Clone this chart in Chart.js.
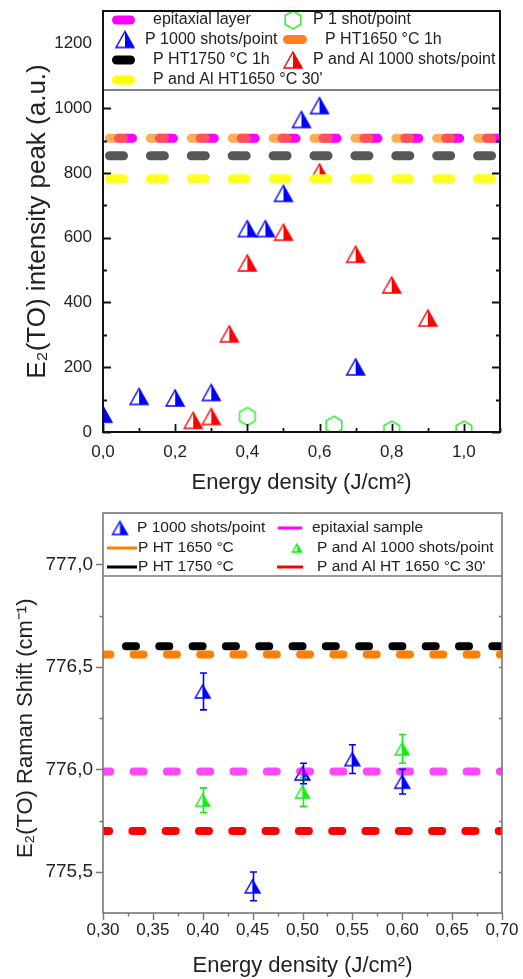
<!DOCTYPE html>
<html>
<head>
<meta charset="utf-8">
<title>E2(TO) intensity and Raman shift vs energy density</title>
<script src="https://cdn.jsdelivr.net/npm/chart.js@4.4.1/dist/chart.umd.min.js"></script>
<style>
  html, body { margin: 0; padding: 0; background: #fff; }
  #wrap { position: relative; width: 523px; height: 979px; overflow: hidden; }
  #top-chart { position: absolute; left: 0; top: 0; }
  #bottom-chart { position: absolute; left: 0; top: 500px; }
</style>
</head>
<body>
<div id="wrap">
  <canvas id="top-chart" width="523" height="500"></canvas>
  <canvas id="bottom-chart" width="523" height="479"></canvas>
</div>
<script>
// ---- top panel: E2(TO) intensity peak ----
var topSeriesNames = ["epitaxial layer", "P 1 shot/point", "P 1000 shots/point", "P HT1650 °C 1h",
  "P HT1750 °C 1h", "P and Al 1000 shots/point", "P and Al HT1650 °C 30'"];
var topP1000X = [0.0, 0.1, 0.2, 0.3, 0.4, 0.45, 0.5, 0.55, 0.6, 0.7];
var topP1000Y = [55, 110, 105, 122, 628, 628, 737, 965, 1008, 201];
var topPAl1000X = [0.25, 0.3, 0.35, 0.4, 0.5, 0.6, 0.7, 0.8, 0.9];
var topPAl1000Y = [36, 48, 303, 522, 617, 803, 549, 454, 352];
var topP1ShotX = [0.4, 0.64, 0.8, 1.0];
var topP1ShotY = [48, 21, 6, 6];
var topEpitaxial = 907;
var topHT1650 = 907;
var topHT1750 = 853;
var topAlHT1650 = 782;
var topXRange = [0, 1.1];
var topYRange = [0, 1300];
var topXMajor = [0, 0.2, 0.4, 0.6, 0.8, 1.0];
var topXMinor = [0.1, 0.3, 0.5, 0.7, 0.9, 1.1];
var topYMajor = [0, 200, 400, 600, 800, 1000, 1200];
var topYMinor = [100, 300, 500, 700, 900, 1100];

// ---- bottom panel: E2(TO) Raman shift ----
var bottomSeriesNames = ["P 1000 shots/point", "epitaxial sample", "P HT 1650 °C",
  "P and Al 1000 shots/point", "P HT 1750 °C", "P and Al HT 1650 °C 30'"];
var botP1000X = [0.40, 0.45, 0.50, 0.55, 0.60];
var botP1000Y = [776.38, 775.43, 775.98, 776.05, 775.94];
var botP1000Err = [0.09, 0.07, 0.05, 0.07, 0.06];
var botPAl1000X = [0.40, 0.50, 0.60];
var botPAl1000Y = [775.85, 775.89, 776.10];
var botPAl1000Err = [0.06, 0.07, 0.07];
var botEpitaxial = 775.99;
var botHT1650 = 776.56;
var botHT1750 = 776.60;
var botAlHT1650 = 775.70;
var botXRange = [0.30, 0.70];
var botYRange = [775.3, 777.25];
var botXMajor = [0.30, 0.35, 0.40, 0.45, 0.50, 0.55, 0.60, 0.65, 0.70];
var botXMinor = [0.325, 0.375, 0.425, 0.475, 0.525, 0.575, 0.625, 0.675];
var botYMajor = [775.5, 776.0, 776.5, 777.0];
var botYMinor = [775.75, 776.25, 776.75];

(function (window) {
  var FONT = "'Liberation Sans', Arial, Helvetica, sans-serif";
  var TEXT = "#222";
  Chart.defaults.font.family = FONT;
  Chart.defaults.color = TEXT;

  function comma(v, d) {
    return Number(v).toFixed(d).replace(".", ",");
  }

  function points(xs, ys) {
    return xs.map(function (x, i) { return { x: x, y: ys[i] }; });
  }

  function level(range, y) {
    return [{ x: range[0], y: y }, { x: range[1], y: y }];
  }

  // marker images
  function halfTriangle(color, w, h) {
    var c = document.createElement("canvas");
    c.width = w + 4; c.height = h + 4;
    var g = c.getContext("2d");
    var cx = c.width / 2;
    g.beginPath(); g.moveTo(cx, 2); g.lineTo(w + 2, h + 2); g.lineTo(2, h + 2); g.closePath();
    g.fillStyle = "#fff"; g.fill();
    g.beginPath(); g.moveTo(cx, 2); g.lineTo(w + 2, h + 2); g.lineTo(cx, h + 2); g.closePath();
    g.fillStyle = color; g.fill();
    g.beginPath(); g.moveTo(cx, 2); g.lineTo(w + 2, h + 2); g.lineTo(2, h + 2); g.closePath();
    g.strokeStyle = color; g.lineWidth = 1.4; g.stroke();
    return c;
  }

  function hexagon(color, r) {
    var c = document.createElement("canvas");
    c.width = Math.ceil(2 * r + 4); c.height = Math.ceil(2 * r + 4);
    var g = c.getContext("2d");
    var cx = c.width / 2, cy = c.height / 2;
    g.beginPath();
    for (var k = 0; k < 6; k++) {
      var a = (-90 + k * 60) * Math.PI / 180;
      var px = cx + r * Math.cos(a), py = cy + r * Math.sin(a);
      if (k === 0) g.moveTo(px, py); else g.lineTo(px, py);
    }
    g.closePath();
    g.strokeStyle = color; g.lineWidth = 1.5; g.stroke();
    return c;
  }

  var BLUE = "#0000ff", RED = "#ff0000", GREEN = "#33ee33";
  var blueTriTop = halfTriangle(BLUE, 18, 16);
  var redTriTop = halfTriangle(RED, 18, 16);
  var greenHex = hexagon(GREEN, 9);
  var blueTriBot = halfTriangle(BLUE, 15, 13);
  var greenTriBot = halfTriangle("#11ee11", 14, 12);
  var greenTriLegend = halfTriangle("#11ee11", 9, 8);

  function levelSet(label, data, color, width, dash, offset, order) {
    return {
      label: label, data: data, showLine: true, pointRadius: 0,
      borderColor: color, borderWidth: width, borderDash: dash, borderDashOffset: offset,
      borderCapStyle: "round", order: order, clip: 0
    };
  }

  function markerSet(label, data, img, extra) {
    var ds = {
      label: label, data: data, pointStyle: img, pointRadius: 9, showLine: false,
      order: 6, clip: 0
    };
    for (var k in extra) ds[k] = extra[k];
    return ds;
  }

  // axis ticks drawn by hand so majors and minors can differ
  function tickPlugin(cfg) {
    return {
      id: "handTicks",
      afterDatasetsDraw: function (chart) {
        var ctx = chart.ctx, a = chart.chartArea, xs = chart.scales.x, ys = chart.scales.y;
        ctx.save();
        ctx.strokeStyle = cfg.color; ctx.lineWidth = cfg.tickWidth;
        function yTicks(vals, len) {
          vals.forEach(function (v) {
            var p = Math.round(ys.getPixelForValue(v)) + 0.5;
            ctx.beginPath();
            ctx.moveTo(a.left, p); ctx.lineTo(a.left + cfg.leftDir * len, p);
            ctx.moveTo(a.right, p); ctx.lineTo(a.right - (cfg.rightLen || len), p);
            ctx.stroke();
          });
        }
        function xTicks(vals, len) {
          vals.forEach(function (v) {
            var p = Math.round(xs.getPixelForValue(v)) + 0.5;
            ctx.beginPath();
            ctx.moveTo(p, a.bottom); ctx.lineTo(p, a.bottom + cfg.bottomDir * len);
            ctx.stroke();
          });
        }
        yTicks(cfg.yMajor, cfg.major); yTicks(cfg.yMinor, cfg.minor);
        xTicks(cfg.xMajor, cfg.major); xTicks(cfg.xMinor, cfg.minor);
        ctx.restore();
      }
    };
  }

  // legend box inside the top of the plot + frame
  function boxPlugin(cfg) {
    return {
      id: "boxLegend",
      afterDraw: function (chart) {
        var ctx = chart.ctx, a = chart.chartArea;
        ctx.save();
        ctx.fillStyle = "#fff";
        ctx.fillRect(a.left, a.top, a.right - a.left, cfg.bottom - a.top);
        ctx.strokeStyle = cfg.sepColor; ctx.lineWidth = 1.5;
        ctx.beginPath(); ctx.moveTo(a.left, cfg.bottom); ctx.lineTo(a.right, cfg.bottom); ctx.stroke();
        ctx.font = cfg.fontSize + "px " + FONT;
        ctx.textBaseline = "middle";
        cfg.items.forEach(function (it) {
          if (it.img) {
            ctx.drawImage(it.img, it.mx - it.img.width / 2, it.y - it.img.height / 2);
          } else {
            ctx.strokeStyle = it.color; ctx.lineWidth = it.lw; ctx.lineCap = it.cap || "butt";
            ctx.beginPath(); ctx.moveTo(it.x1, it.y); ctx.lineTo(it.x2, it.y); ctx.stroke();
          }
          ctx.fillStyle = TEXT;
          ctx.fillText(it.text, it.tx, it.y);
        });
        ctx.lineCap = "butt";
        ctx.strokeStyle = cfg.frameColor; ctx.lineWidth = cfg.frameWidth;
        ctx.strokeRect(a.left, a.top, a.right - a.left, a.bottom - a.top);
        ctx.restore();
      }
    };
  }

  function errorBarPlugin() {
    return {
      id: "errorBars",
      afterDatasetsDraw: function (chart) {
        var ctx = chart.ctx, xs = chart.scales.x, ys = chart.scales.y;
        ctx.save();
        chart.data.datasets.forEach(function (ds) {
          if (!ds.errors) return;
          ctx.strokeStyle = ds.errorColor; ctx.lineWidth = 1.6;
          ds.data.forEach(function (p, i) {
            var px = Math.round(xs.getPixelForValue(p.x)) + 0.5;
            var t = ys.getPixelForValue(p.y + ds.errors[i]);
            var b = ys.getPixelForValue(p.y - ds.errors[i]);
            ctx.beginPath();
            ctx.moveTo(px, t); ctx.lineTo(px, b);
            ctx.moveTo(px - 3.5, t); ctx.lineTo(px + 3.5, t);
            ctx.moveTo(px - 3.5, b); ctx.lineTo(px + 3.5, b);
            ctx.stroke();
          });
        });
        ctx.restore();
      }
    };
  }

  function axis(opts) {
    return {
      type: "linear", min: opts.range[0], max: opts.range[1],
      grid: { display: false, drawTicks: false }, border: { display: false },
      afterBuildTicks: function (s) { s.ticks = opts.major.map(function (v) { return { value: v }; }); },
      afterFit: function (s) {
        opts.fit(s);
        s.paddingTop = 0; s.paddingBottom = 0; s.paddingLeft = 0; s.paddingRight = 0;
      },
      ticks: {
        autoSkip: false, maxRotation: 0, minRotation: 0, padding: opts.pad, color: TEXT,
        font: { size: opts.tickSize }, callback: function (v) { return comma(v, opts.dec); }
      },
      title: { display: true, text: opts.title, color: TEXT, font: { size: opts.titleSize }, padding: opts.titlePad }
    };
  }

  var topTitleX = "Energy density (J/cm²)";

  new Chart(document.getElementById("top-chart"), {
    type: "scatter",
    data: {
      datasets: [
        levelSet(topSeriesNames[0], level(topXRange, topEpitaxial), "#ff00ff", 9, [14, 26.9], 25.4, 3),
        levelSet(topSeriesNames[3], level(topXRange, topHT1650), "rgba(255,128,0,0.65)", 9, [14, 26.9], 34.4, 2),
        levelSet(topSeriesNames[4], level(topXRange, topHT1750), "rgba(0,0,0,0.66)", 9, [14, 26.9], 34.4, 2),
        levelSet(topSeriesNames[6], level(topXRange, topAlHT1650), "#ffff22", 9, [14, 26.9], 34.4, 2),
        markerSet(topSeriesNames[1], points(topP1ShotX, topP1ShotY), greenHex),
        markerSet(topSeriesNames[5], points(topPAl1000X, topPAl1000Y), redTriTop),
        markerSet(topSeriesNames[2], points(topP1000X, topP1000Y), blueTriTop)
      ]
    },
    options: {
      responsive: false, animation: false, events: [],
      layout: { padding: { left: 0, right: 23, top: 11, bottom: 0 } },
      plugins: { legend: { display: false }, tooltip: { enabled: false } },
      scales: {
        x: axis({ range: topXRange, major: topXMajor, dec: 1, pad: 10, tickSize: 17,
          title: topTitleX, titleSize: 22, titlePad: { top: 0, bottom: 4 },
          fit: function (s) { s.height = 68; } }),
        y: axis({ range: topYRange, major: topYMajor, dec: 0, pad: 11, tickSize: 17,
          title: "E₂(TO) intensity peak (a.u.)", titleSize: 26, titlePad: { top: 22, bottom: 0 },
          fit: function (s) { s.width = 103; } })
      }
    },
    plugins: [
      tickPlugin({ color: "#111", tickWidth: 1.8, major: 8, minor: 4, leftDir: 1, bottomDir: -1,
        xMajor: topXMajor, xMinor: topXMinor, yMajor: topYMajor, yMinor: topYMinor }),
      boxPlugin({
        bottom: 90, sepColor: "#555", frameColor: "#111", frameWidth: 2, fontSize: 16,
        items: [
          { text: topSeriesNames[0], y: 20, tx: 153, x1: 116.5, x2: 130.5, lw: 9, cap: "round", color: "#ff00ff" },
          { text: topSeriesNames[1], y: 20, tx: 313, img: greenHex, mx: 293 },
          { text: topSeriesNames[2], y: 39.5, tx: 145, img: blueTriTop, mx: 125 },
          { text: topSeriesNames[3], y: 39.5, tx: 325, x1: 287.5, x2: 302.5, lw: 9, cap: "round", color: "#ff8020" },
          { text: topSeriesNames[4], y: 60, tx: 153, x1: 116.5, x2: 130.5, lw: 9, cap: "round", color: "#000" },
          { text: topSeriesNames[5], y: 60, tx: 313, img: redTriTop, mx: 293 },
          { text: topSeriesNames[6], y: 80, tx: 153, x1: 116.5, x2: 130.5, lw: 9, cap: "round", color: "#ffff00" }
        ]
      })
    ]
  });

  var nb = "\u00a0\u00a0\u00a0\u00a0\u00a0";

  new Chart(document.getElementById("bottom-chart"), {
    type: "scatter",
    data: {
      datasets: [
        levelSet(bottomSeriesNames[1], level(botXRange, botEpitaxial), "rgba(255,0,255,0.72)", 8, [10, 23.3], 2.7, 2),
        levelSet(bottomSeriesNames[2], level(botXRange, botHT1650), "#ff7f00", 8, [10, 23.3], 2.7, 2),
        levelSet(bottomSeriesNames[4], level(botXRange, botHT1750), "#000", 8, [10, 23.3], 10.3, 2),
        levelSet(bottomSeriesNames[5], level(botXRange, botAlHT1650), "#ff0000", 8, [10, 23.3], 3.9, 2),
        markerSet(bottomSeriesNames[3], points(botPAl1000X, botPAl1000Y), greenTriBot,
          { errors: botPAl1000Err, errorColor: "#11ee11" }),
        markerSet(bottomSeriesNames[0], points(botP1000X, botP1000Y), blueTriBot,
          { errors: botP1000Err, errorColor: BLUE })
      ]
    },
    options: {
      responsive: false, animation: false, events: [],
      layout: { padding: { left: 0, right: 21, top: 13, bottom: 0 } },
      plugins: { legend: { display: false }, tooltip: { enabled: false } },
      scales: {
        x: axis({ range: botXRange, major: botXMajor, dec: 2, pad: 7, tickSize: 17,
          title: topTitleX, titleSize: 22, titlePad: { top: 0, bottom: 0 },
          fit: function (s) { s.height = 66; } }),
        y: axis({ range: botYRange, major: botYMajor, dec: 1, pad: 10, tickSize: 19,
          title: "E₂(TO) Raman Shift (cm⁻¹)" + nb, titleSize: 22, titlePad: { top: 13, bottom: 0 },
          fit: function (s) { s.width = 103; } })
      }
    },
    plugins: [
      errorBarPlugin(),
      tickPlugin({ color: "#777", tickWidth: 1.4, major: 7, minor: 3.5, leftDir: -1, bottomDir: 1, rightLen: 3,
        xMajor: botXMajor, xMinor: botXMinor, yMajor: botYMajor, yMinor: botYMinor }),
      boxPlugin({
        bottom: 76, sepColor: "#777", frameColor: "#777", frameWidth: 1.6, fontSize: 15.5,
        items: [
          { text: bottomSeriesNames[0], y: 28, tx: 137, img: blueTriBot, mx: 120 },
          { text: bottomSeriesNames[1], y: 28, tx: 312, x1: 278, x2: 302, lw: 3, color: "#ff00ff" },
          { text: bottomSeriesNames[2], y: 48, tx: 138, x1: 107, x2: 137, lw: 3, color: "#ff7f00" },
          { text: bottomSeriesNames[3], y: 48, tx: 317, img: greenTriLegend, mx: 297 },
          { text: bottomSeriesNames[4], y: 67, tx: 138, x1: 107, x2: 137, lw: 3, color: "#000" },
          { text: bottomSeriesNames[5], y: 67, tx: 317, x1: 277, x2: 303, lw: 3, color: "#ff0000" }
        ]
      })
    ]
  });
})(window);
</script>
</body>
</html>
